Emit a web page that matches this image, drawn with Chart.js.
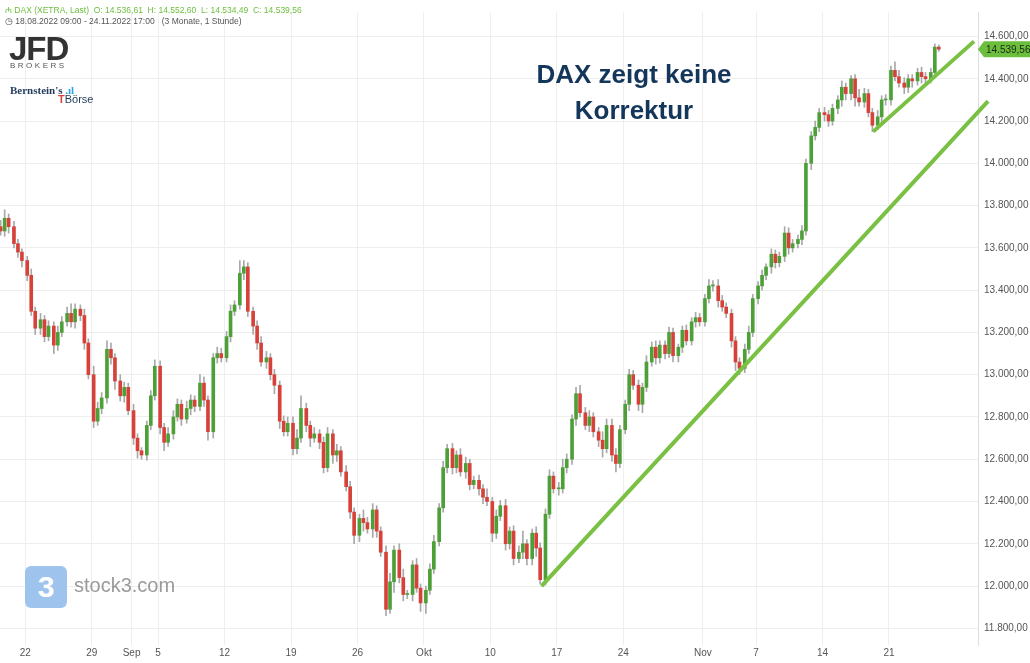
<!DOCTYPE html>
<html><head><meta charset="utf-8">
<script src="https://cdn.jsdelivr.net/npm/chart.js@4.4.0/dist/chart.umd.min.js"></script>
<style>
html,body{margin:0;padding:0;background:#fff;overflow:hidden}
#wrap{position:relative;width:1030px;height:663px;font-family:"Liberation Sans",Arial,sans-serif}
canvas{position:absolute;left:0;top:0}
.ov{position:absolute;white-space:nowrap}
</style></head><body>
<div id="wrap">
<canvas id="c" width="1030" height="663"></canvas>
<div class="ov" style="left:5px;top:4px;font-size:8.5px;color:#6cbf3c">₼ DAX (XETRA, Last)&nbsp; O: 14.536,61&nbsp; H: 14.552,60&nbsp; L: 14.534,49&nbsp; C: 14.539,56</div>
<div class="ov" style="left:5px;top:16px;font-size:8.5px;color:#555">◷ 18.08.2022 09:00 - 24.11.2022 17:00&nbsp;&nbsp; (3 Monate, 1 Stunde)</div>
<div class="ov" style="left:9px;top:30px;font-size:33px;font-weight:bold;color:#333;letter-spacing:-1px">JFD</div>
<div class="ov" style="left:10px;top:61px;font-size:8px;color:#555;letter-spacing:2.5px">BROKERS</div>
<div class="ov" style="left:10px;top:84px;font-size:11px;font-weight:bold;color:#1f3a5a;font-family:'Liberation Serif',serif">Bernstein's <span style="color:#2aa6e0">.ıl</span></div>
<div class="ov" style="left:58px;top:93px;font-size:11px;color:#1f3a5a"><span style="color:#d9443a;font-weight:bold">Т</span>Börse</div>
<div class="ov" style="left:518px;top:56px;font-size:26px;font-weight:bold;color:#13365a;text-align:center;width:232px;line-height:36px">DAX zeigt keine<br>Korrektur</div>
<div class="ov" style="left:25px;top:566px;width:42px;height:42px;border-radius:6px;background:#9ec4ee;color:#fff;font-size:30px;font-weight:bold;text-align:center;line-height:42px">3</div>
<div class="ov" style="left:74px;top:574px;font-size:20px;color:#9a9a9a">stock3.com</div>
</div>
<script>
const tickDays   = [2, 7, 10, 12, 17, 22, 27, 32, 37, 42, 47, 53, 57, 62, 67];
const tickLabels = ["22","29","Sep","5","12","19","26","Okt","10","17","24","Nov","7","14","21"];
const firstOpen = 13700;
const closes = [
13680,13740,13700, 13620,13580,13540, 13470,13300,13220, 13260,13180,13230, 13140,13200,13250,
13290,13250,13310, 13280,13150,13000, 12780,12840,12890, 13120,13080,12970, 12900,12940,12830,
12700,12640,12620, 12760,12900,13040, 12750,12680,12720, 12800,12860,12790, 12840,12880,12850,
12960,12880,12730, 13080,13100,13080, 13180,13300,13330, 13480,13510,13300, 13230,13150,13060,
13080,13000,12950, 12780,12730,12770, 12650,12700,12840, 12760,12700,12720, 12680,12560,12720,
12620,12640,12540, 12470,12350,12240, 12320,12300,12270, 12360,12260,12160, 11890,12020,12170,
12040,11960,11960, 12100,11990,11920, 11980,12080,12210, 12370,12560,12650, 12560,12620,12540,
12580,12480,12500, 12460,12420,12400, 12250,12330,12380, 12200,12260,12130, 12160,12200,12130,
12250,12180,12030, 12340,12520,12460, 12460,12560,12600, 12790,12910,12820, 12760,12800,12730,
12690,12650,12760, 12620,12580,12740, 12860,13000,12950, 12860,12940,13060, 13130,13080,13140,
13100,13200,13090, 13130,13210,13160, 13250,13270,13250, 13360,13420,13420, 13350,13320,13290,
13160,13060,13030, 13120,13200,13360, 13420,13470,13510, 13570,13530,13560, 13670,13600,13620,
13640,13680,14000, 14130,14170,14240, 14230,14200,14260, 14300,14360,14330, 14400,14310,14290,
14330,14240,14180, 14220,14300,14300, 14440,14410,14380, 14360,14400,14390, 14430,14410,14400,
14430,14550,14540];
const upWick = [
30,40,20, 25,20,15, 20,30,20, 30,20,25, 20,30,25, 30,45,25, 20,30,20, 40,30,25, 40,30,20, 30,25,20,
30,20,15, 20,25,30, 25,20,30, 30,25,20, 35,25,20, 40,30,20, 20,30,25, 25,30,20, 60,30,20, 20,25,30,
30,20,25, 20,25,30, 30,40,60, 25,20,30, 20,25,30, 20,30,20, 30,25,20, 20,40,25, 30,20,20, 30,40,20,
30,40,20, 20,30,20, 20,25,30, 20,30,20, 25,20,30, 30,20,20, 25,20,40, 20,30,25, 30,20,25, 30,60,20,
20,30,25, 25,30,20, 30,40,25, 20,30,40, 25,30,20, 20,40,30, 30,30,20, 20,25,20, 25,20,30, 25,30,20,
20,25,20, 15,20,25, 20,25,20, 20,30,25, 30,25,20, 20,20,20, 25,30,20, 20,25,15, 25,20,20, 30,25,20,
20,25,20, 20,30,20, 25,20,20, 20,30,20, 15,20,40, 25,20,20, 30,20,25, 20,40,30, 25,20,20, 20,25,20,
20,15,10];
const downWick = [
20,25,30, 20,25,30, 25,20,30, 30,25,20, 40,25,20, 20,25,30, 25,30,20, 30,20,25, 25,30,40, 25,30,20,
30,35,20, 25,20,20, 30,40,20, 25,20,30, 20,30,25, 20,30,40, 30,25,20, 20,25,20, 20,30,25, 40,30,20,
30,25,40, 35,20,20, 30,25,20, 30,40,20, 30,25,20, 40,30,20, 20,30,40, 30,40,20, 40,30,20, 30,20,50,
25,30,20, 30,20,40, 50,20,20, 20,20,25, 30,25,20, 30,25,20, 30,30,20, 40,25,20, 30,25,30, 20,30,30,
30,40,20, 25,20,20, 30,20,25, 25,30,20, 20,30,25, 30,40,20, 30,40,20, 20,30,20, 30,40,20, 20,30,25,
25,20,30, 30,25,20, 20,25,20, 20,20,25, 30,20,20, 30,40,30, 20,20,20, 25,20,20, 30,25,20, 25,30,20,
20,25,20, 30,20,20, 30,25,20, 25,30,30, 30,40,20, 25,20,30, 20,30,25, 25,20,20, 30,25,30, 20,30,20,
20,15,10];
const trendBig   = [[40.85, 12000], [74.46, 14294]];
const trendSmall = [[65.81, 14150], [73.40, 14577]];
const lastPrice = 14539.56;

const bodies = [], wicks = [], cols = [];
let prev = firstOpen;
closes.forEach((c, i) => {
  const d = Math.floor(i / 3), k = i % 3;
  const x = d + 0.15 + k * 0.3;
  const o = prev;
  bodies.push({x, y: [o, c]});
  wicks.push({x, y: [Math.min(o, c) - (downWick[i] ?? 15), Math.max(o, c) + (upWick[i] ?? 15)]});
  cols.push(c >= o ? '#4d9f37' : '#d6423a');
  prev = c;
});
const fmt = v => v.toLocaleString('de-DE', {minimumFractionDigits: 2, maximumFractionDigits: 2});

const badge = {
  id: 'badge',
  afterDraw(ch) {
    const y = ch.scales.y.getPixelForValue(lastPrice), x = 978, g = ch.ctx;
    g.save();
    g.fillStyle = '#6cbf3c';
    g.beginPath(); g.moveTo(x, y); g.lineTo(x + 6, y - 8); g.lineTo(1030, y - 8); g.lineTo(1030, y + 8); g.lineTo(x + 6, y + 8); g.closePath(); g.fill();
    g.fillStyle = '#1b2a12'; g.font = '10px "Liberation Sans", Arial'; g.textBaseline = 'middle';
    g.fillText(fmt(lastPrice), x + 8, y + 1);
    g.restore();
  }
};

new Chart(document.getElementById('c'), {
  data: {
    datasets: [
      {type: 'line', data: trendBig.map(p => ({x: p[0], y: p[1]})), borderColor: '#79c043', borderWidth: 4, pointRadius: 0, clip: false, order: 0},
      {type: 'line', data: trendSmall.map(p => ({x: p[0], y: p[1]})), borderColor: '#79c043', borderWidth: 4, pointRadius: 0, clip: false, order: 0},
      {type: 'bar', data: bodies, backgroundColor: cols, barThickness: 3, minBarLength: 1, grouped: false, order: 1},
      {type: 'bar', data: wicks, backgroundColor: '#a8a8a8', barThickness: 1, grouped: false, order: 2}
    ]
  },
  options: {
    responsive: false, animation: false,
    layout: {padding: 0},
    plugins: {legend: {display: false}, tooltip: {enabled: false}},
    scales: {
      x: {
        type: 'linear', min: 0.1, max: 73.7, offset: false,
        afterBuildTicks: s => { s.ticks = tickDays.map(v => ({value: v})); },
        afterFit: s => { s.height = 18; },
        ticks: {autoSkip: false, maxRotation: 0, padding: 2, color: '#555', font: {size: 10, family: 'Liberation Sans'},
                callback: v => tickLabels[tickDays.indexOf(v)] ?? ''},
        grid: {color: '#eeeeee', drawTicks: false, offset: false}, border: {display: false}
      },
      y: {
        position: 'right', min: 11721, max: 14716,
        afterBuildTicks: s => { const t = []; for (let v = 11800; v <= 14600; v += 200) t.push({value: v}); s.ticks = t; },
        afterFit: s => { s.width = 52; },
        ticks: {padding: 6, color: '#555', font: {size: 10, family: 'Liberation Sans'}, callback: v => fmt(v)},
        grid: {color: '#eeeeee', drawTicks: false}, border: {display: true, color: '#dddddd'}
      }
    }
  },
  plugins: [badge]
});
</script>
</body></html>
